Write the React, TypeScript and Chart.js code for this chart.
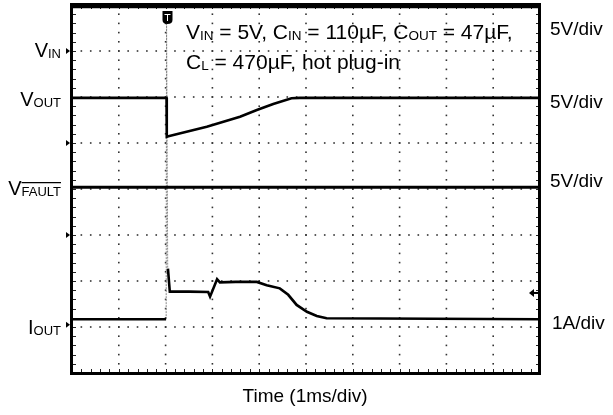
import React, { useEffect, useRef } from "react";
import { Chart, registerables } from "chart.js";

Chart.register(...registerables);

// ---- Scope settings ----
const TIME_DIVS = 10; // 1 ms/div
const VOLT_DIVS = 8;
const VOLTS_PER_DIV = 5;
const AMPS_PER_DIV = 1;
const VIN_GROUND_DIV = 7;
const VOUT_GROUND_DIV = 5;
const VFAULT_GROUND_DIV = 3;
const IOUT_GROUND_DIV = 1.05;
const TRIGGER_TIME_MS = 2.02;
const TRIGGER_LEVEL_A = 0.69;

// ---- Traces (time in ms, volts / amps) ----
const vinTime = [0, 10];
const vinVolts = [4.8, 4.8];

const voutTime = [0, 2.02, 2.025, 2.06, 2.88, 3.59, 3.95, 4.3, 4.69, 4.87, 10];
const voutVolts = [4.9, 4.9, 0.68, 0.74, 1.77, 2.86, 3.59, 4.24, 4.86, 4.9, 4.9];

const vfaultTime = [0, 10];
const vfaultVolts = [5.2, 5.2];

const ioutTime = [0, 2.01, 2.02, 2.05, 2.09, 2.5, 2.91, 2.95, 3.1, 3.16, 3.5, 3.95, 4.16, 4.44, 4.62, 4.8, 5.02, 5.23, 5.44, 10];
const ioutAmps = [0.12, 0.12, null, 1.22, 0.72, 0.72, 0.71, 0.61, 0.99, 0.92, 0.93, 0.93, 0.86, 0.79, 0.65, 0.43, 0.28, 0.19, 0.14, 0.12];

const spikeTime = [2.012, 2.02, 2.045];
const spikeAmps = [0.12, 6.8, 1.22];

const FONT = '"Liberation Sans", Arial, Helvetica, sans-serif';

type Part = { t: string; sub?: boolean; over?: boolean };

function drawRich(ctx: CanvasRenderingContext2D, parts: Part[], x: number, y: number, align: "left" | "right", size: number, subSize: number) {
  let total = 0;
  const widths: number[] = [];
  for (const p of parts) {
    ctx.font = `${p.sub ? subSize : size}px ${FONT}`;
    const w = ctx.measureText(p.t).width;
    widths.push(w);
    total += w;
  }
  let cx = align === "right" ? x - total : x;
  ctx.textAlign = "left";
  ctx.textBaseline = "alphabetic";
  parts.forEach((p, i) => {
    ctx.font = `${p.sub ? subSize : size}px ${FONT}`;
    ctx.fillText(p.t, cx, y + (p.sub ? 1 : 0));
    if (p.over) {
      ctx.save();
      ctx.strokeStyle = "#000";
      ctx.lineWidth = 1.2;
      const oy = y - subSize * 0.72 - 3;
      ctx.beginPath();
      ctx.moveTo(cx, oy);
      ctx.lineTo(cx + widths[i], oy);
      ctx.stroke();
      ctx.restore();
    }
    cx += widths[i];
  });
}

const scopePlugin = {
  id: "scope",
  beforeDatasetsDraw(chart: any) {
    const { ctx, chartArea: a, scales } = chart;
    const xs = scales.x;
    const ys = scales.y;
    ctx.save();
    ctx.fillStyle = "#333";
    // dotted grid
    for (let i = 1; i < TIME_DIVS; i++) {
      const px = xs.getPixelForValue(i);
      for (let j = 1; j < VOLT_DIVS * 5; j++) {
        const py = ys.getPixelForValue(j / 5);
        ctx.fillRect(px - 0.8, py - 0.8, 1.6, 1.6);
      }
    }
    for (let j = 1; j < VOLT_DIVS; j++) {
      const py = ys.getPixelForValue(j);
      for (let i = 1; i < TIME_DIVS * 5; i++) {
        const px = xs.getPixelForValue(i / 5);
        ctx.fillRect(px - 0.8, py - 0.8, 1.6, 1.6);
      }
    }
    // inner edge ticks
    ctx.strokeStyle = "#222";
    ctx.lineWidth = 1;
    ctx.beginPath();
    for (let i = 1; i < TIME_DIVS * 5; i++) {
      const px = Math.round(xs.getPixelForValue(i / 5)) + 0.5;
      ctx.moveTo(px, a.bottom);
      ctx.lineTo(px, a.bottom - 4);
      ctx.moveTo(px, a.top);
      ctx.lineTo(px, a.top + 4);
    }
    for (let j = 1; j < VOLT_DIVS * 5; j++) {
      const py = Math.round(ys.getPixelForValue(j / 5)) + 0.5;
      ctx.moveTo(a.left, py);
      ctx.lineTo(a.left + 4, py);
      ctx.moveTo(a.right, py);
      ctx.lineTo(a.right - 4, py);
    }
    ctx.stroke();
    ctx.restore();
  },
  afterDatasetsDraw(chart: any) {
    const { ctx, chartArea: a, scales } = chart;
    const xs = scales.x;
    const ys = scales.y;
    ctx.save();
    // border
    ctx.strokeStyle = "#000";
    ctx.lineWidth = 3;
    ctx.strokeRect(a.left - 0.5, a.top - 0.5, a.right - a.left, a.bottom - a.top + 1);

    ctx.fillStyle = "#000";
    // ground markers on the left
    for (const g of [VIN_GROUND_DIV, VOUT_GROUND_DIV, VFAULT_GROUND_DIV, IOUT_GROUND_DIV]) {
      const py = ys.getPixelForValue(g);
      ctx.beginPath();
      ctx.moveTo(a.left - 2, py);
      ctx.lineTo(a.left - 6, py - 3);
      ctx.lineTo(a.left - 6, py + 3);
      ctx.closePath();
      ctx.fill();
    }
    // trigger level marker (right)
    {
      const py = ys.getPixelForValue(IOUT_GROUND_DIV + TRIGGER_LEVEL_A / AMPS_PER_DIV);
      ctx.beginPath();
      ctx.moveTo(a.right - 11, py);
      ctx.lineTo(a.right - 6, py - 4);
      ctx.lineTo(a.right - 6, py + 4);
      ctx.closePath();
      ctx.fill();
      ctx.fillRect(a.right - 7, py - 1, 6, 2);
    }
    // trigger time marker (top)
    {
      const px = Math.round(xs.getPixelForValue(TRIGGER_TIME_MS)) + 0.5;
      const top = a.top + 6;
      ctx.beginPath();
      ctx.moveTo(px - 5, top);
      ctx.lineTo(px + 5, top);
      ctx.lineTo(px + 5, top + 9);
      ctx.quadraticCurveTo(px + 5, top + 13, px, top + 13);
      ctx.quadraticCurveTo(px - 5, top + 13, px - 5, top + 9);
      ctx.closePath();
      ctx.fill();
      ctx.strokeStyle = "#fff";
      ctx.lineWidth = 1;
      ctx.beginPath();
      ctx.moveTo(px - 3, top + 3.5);
      ctx.lineTo(px + 3, top + 3.5);
      ctx.moveTo(px, top + 3.5);
      ctx.lineTo(px, top + 10);
      ctx.stroke();
    }
    ctx.restore();
  },
  afterDraw(chart: any) {
    const { ctx } = chart;
    ctx.save();
    ctx.fillStyle = "#000";
    // left labels
    drawRich(ctx, [{ t: "V" }, { t: "IN", sub: true }], 61, 57, "right", 20, 13);
    drawRich(ctx, [{ t: "V" }, { t: "OUT", sub: true }], 61, 106, "right", 20, 13);
    drawRich(ctx, [{ t: "V" }, { t: "FAULT", sub: true, over: true }], 61, 195, "right", 20, 13);
    drawRich(ctx, [{ t: "I" }, { t: "OUT", sub: true }], 61, 334, "right", 20, 13);
    // right labels
    drawRich(ctx, [{ t: "5V/div" }], 550, 35, "left", 19, 13);
    drawRich(ctx, [{ t: "5V/div" }], 550, 108, "left", 19, 13);
    drawRich(ctx, [{ t: "5V/div" }], 550, 187, "left", 19, 13);
    drawRich(ctx, [{ t: "1A/div" }], 552, 329, "left", 19, 13);
    // annotation
    drawRich(
      ctx,
      [{ t: "V" }, { t: "IN", sub: true }, { t: " = 5V, C" }, { t: "IN", sub: true }, { t: " = 110µF, C" }, { t: "OUT", sub: true }, { t: " = 47µF," }],
      186, 39, "left", 21, 13.5
    );
    drawRich(ctx, [{ t: "C" }, { t: "L", sub: true }, { t: " = 470µF, hot plug-in" }], 186, 69, "left", 21, 13.5);
    // x title
    ctx.font = `19px ${FONT}`;
    ctx.textAlign = "center";
    ctx.fillText("Time (1ms/div)", 305, 402);
    ctx.restore();
  },
};

function toPoints(t: number[], v: (number | null)[], ground: number, perDiv: number) {
  return t.map((x, i) => ({ x, y: v[i] === null ? null : ground + (v[i] as number) / perDiv }));
}

export default function App() {
  const ref = useRef<HTMLCanvasElement | null>(null);
  useEffect(() => {
    if (!ref.current) return;
    const lineStyle = { borderColor: "#000", borderWidth: 3, pointRadius: 0, tension: 0, fill: false, spanGaps: false };
    const chart = new Chart(ref.current, {
      type: "line",
      data: {
        datasets: [
          { label: "VIN", data: toPoints(vinTime, vinVolts, VIN_GROUND_DIV, VOLTS_PER_DIV), ...lineStyle, clip: false },
          { label: "VOUT", data: toPoints(voutTime, voutVolts, VOUT_GROUND_DIV, VOLTS_PER_DIV), ...lineStyle, borderWidth: 2.6 },
          { label: "VFAULT", data: toPoints(vfaultTime, vfaultVolts, VFAULT_GROUND_DIV, VOLTS_PER_DIV), ...lineStyle },
          { label: "IOUT", data: toPoints(ioutTime, ioutAmps, IOUT_GROUND_DIV, AMPS_PER_DIV), ...lineStyle, borderWidth: 2.6 },
          { label: "IOUT spike", data: toPoints(spikeTime, spikeAmps, IOUT_GROUND_DIV, AMPS_PER_DIV), ...lineStyle, borderColor: "#888", borderWidth: 1, borderDash: [2, 1] },
        ] as any,
      },
      options: {
        responsive: false,
        maintainAspectRatio: false,
        animation: false,
        layout: { padding: { left: 72, right: 73, top: 5, bottom: 42 } },
        scales: {
          x: { type: "linear", min: 0, max: TIME_DIVS, display: false },
          y: { type: "linear", min: 0, max: VOLT_DIVS, display: false },
        },
        plugins: { legend: { display: false }, tooltip: { enabled: false } },
      },
      plugins: [scopePlugin],
    });
    return () => chart.destroy();
  }, []);
  return (
    <div style={{ position: "fixed", left: 0, top: 0, width: 613, height: 415, background: "#fff" }}>
      <canvas ref={ref} width={613} height={415} style={{ display: "block" }} />
    </div>
  );
}
